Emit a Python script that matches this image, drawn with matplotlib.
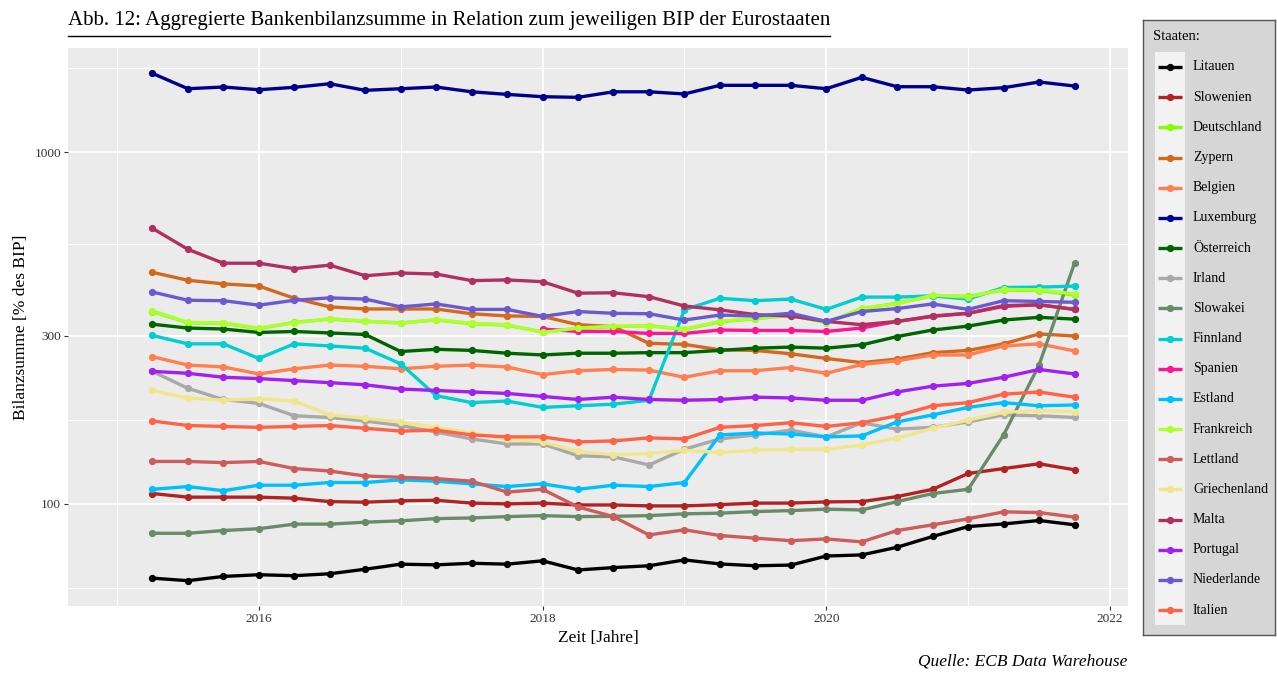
"""Aggregierte Bankenbilanzsumme der Eurostaaten in % des BIP (log-Skala)."""
import numpy as np
import matplotlib
matplotlib.use("Agg")
import matplotlib.pyplot as plt
from matplotlib.lines import Line2D
from matplotlib.patches import Rectangle

plt.rcParams["font.family"] = ["Liberation Serif", "DejaVu Serif"]

# Quartale 2015 Q1 .. 2021 Q3
QUARTERS = [2015.25 + 0.25 * i for i in range(27)]

COUNTRIES = [
    "Litauen", "Slowenien", "Deutschland", "Zypern", "Belgien", "Luxemburg",
    "Österreich", "Irland", "Slowakei", "Finnland", "Spanien", "Estland",
    "Frankreich", "Lettland", "Griechenland", "Malta", "Portugal",
    "Niederlande", "Italien",
]

COLORS = [
    "#000000", "#b22222", "#7fff00", "#d2691e", "#ff7f50", "#00008b",
    "#006400", "#a9a9a9", "#698b69", "#00ced1", "#ff1493", "#00bfff",
    "#adff2f", "#cd5c5c", "#f0e68c", "#b03060", "#a020f0", "#6a5acd",
    "#ff6347",
]

# Bilanzsumme in % des BIP
litauen = [61.5, 60.5, 62.2, 62.9, 62.5, 63.3, 65.2, 67.4, 67.1, 67.8, 67.4,
           68.9, 64.9, 65.9, 66.7, 69.3, 67.5, 66.7, 67.0, 71.1, 71.6, 75.3,
           80.8, 86.2, 87.7, 89.7, 87.2]
slowenien = [107, 104.5, 104.5, 104.5, 103.8, 101.5, 101.1, 102, 102.4, 100.5,
             100, 100.5, 99.3, 99.3, 98.7, 98.7, 99.5, 100.5, 100.5, 101.3,
             101.5, 104.9, 110, 122, 126, 130, 125]
deutschland = [352, 327, 326, 315, 328, 335, 330, 327, 333, 325, 322, 308, 315,
               319, 321, 313, 329, 336, 343, 328, 358, 372, 390, 389, 405, 404,
               392]
zypern = [455, 432, 422, 416, 384, 363, 358, 358, 358, 347, 342, 341, 323, 319,
          286, 284, 274, 273, 267, 259, 252, 258, 269, 273, 285, 304, 300]
belgien = [262, 248, 245, 234, 242, 248, 246, 242, 246, 248, 245, 233, 239, 241,
           240, 229, 239, 239, 244, 235, 249, 255, 265, 265, 281, 285, 272]
luxemburg = [1673, 1513, 1530, 1503, 1527, 1563, 1497, 1513, 1530, 1483, 1458,
             1436, 1430, 1483, 1483, 1462, 1547, 1547, 1547, 1513, 1630, 1533,
             1533, 1500, 1523, 1581, 1540]
oesterreich = [324, 316, 314, 307, 309, 306, 303, 271, 275, 273, 268, 265, 268,
               268, 269, 269, 273, 277, 279, 277, 283, 299, 312, 320, 333, 339,
               335]
irland = [238, 213, 198, 193, 178, 176, 172, 167, 160, 153, 148, 148, 137, 136,
          129, 143, 153, 157, 162, 155, 170, 163, 165, 171, 179, 178, 176]
slowakei = [82.5, 82.5, 84, 85, 87.6, 87.6, 88.7, 89.5, 90.8, 91.2, 92, 92.6,
            92, 92.2, 92.6, 93.7, 94.1, 95.1, 95.7, 96.6, 96.1, 101.5, 107, 110,
            157, 248, 483]
finnland = [301, 285, 285, 259, 285, 281, 277, 250, 203, 194, 196, 188, 190,
            192, 197, 356, 384, 378, 382, 357, 387, 387, 390, 382, 412, 413,
            416]
spanien = [np.nan] * 11 + [314, 309, 309, 305, 305, 312, 311, 311, 309, 316,
                           330, 342, 348, 364, 368, 357]
estland = [110, 112, 109, 113, 113, 115, 115, 117, 116, 114, 112, 114, 110, 113,
           112, 115, 157, 159, 158, 155, 156, 171, 179, 188, 194, 190, 191]
frankreich = [354, 328, 327, 316, 327, 336, 331, 326, 334, 326, 323, 307, 316,
              320, 320, 314, 330, 337, 344, 327, 360, 370, 392, 387, 407, 406,
              395]
lettland = [132, 132, 131, 132, 126, 124, 120, 119, 118, 116, 108, 110, 98, 92,
            81.6, 84.4, 81.3, 79.9, 78.6, 79.5, 78, 84, 87.2, 90.7, 94.9, 94.5,
            91.7]
griechenland = [210, 200, 197, 199, 196, 179, 175, 171, 165, 159, 153, 150, 141,
                138, 139, 142, 140, 142, 143, 143, 147, 154, 164, 173, 182, 184,
                183]
malta = [607, 529, 483, 483, 466, 477, 445, 453, 450, 431, 433, 428, 397, 398,
         388, 365, 356, 345, 342, 330, 323, 330, 341, 348, 366, 368, 357]
portugal = [238, 235, 229, 227, 224, 221, 218, 212, 210, 208, 206, 202, 198,
            201, 198, 197, 198, 201, 200, 197, 197, 208, 216, 220, 229, 241,
            234]
niederlande = [400, 379, 378, 367, 379, 385, 382, 363, 370, 357, 357, 341, 352,
               348, 347, 333, 344, 342, 348, 330, 352, 359, 370, 357, 378, 376,
               374]
italien = [172, 167, 166, 165, 166, 167, 164, 161, 162, 157, 155, 155, 150, 151,
           154, 153, 165, 167, 170, 166, 170, 178, 190, 194, 205, 208, 201]

SERIES = [litauen, slowenien, deutschland, zypern, belgien, luxemburg,
          oesterreich, irland, slowakei, finnland, spanien, estland, frankreich,
          lettland, griechenland, malta, portugal, niederlande, italien]

W, H = 1277, 673
fig = plt.figure(figsize=(W / 100, H / 100), dpi=100)
fig.patch.set_facecolor("white")

# panel in pixel coordinates: x 68..1128, y 48..606
ax = fig.add_axes([68 / W, (H - 606) / H, 1060 / W, 558 / H])
ax.set_facecolor("#ebebeb")
for s in ax.spines.values():
    s.set_visible(False)

for i, (name, vals, col) in enumerate(zip(COUNTRIES, SERIES, COLORS)):
    ax.plot(QUARTERS, vals, color=col, lw=2.4, marker="o", ms=4.2,
            solid_capstyle="round", zorder=3 + i * 0.01, label=name)

ax.set_yscale("log")
ax.set_ylim(51.26, 1975)
ax.set_xlim(2014.655, 2022.127)

ax.set_yticks([100, 300, 1000])
ax.set_yticklabels(["100", "300", "1000"])
ax.set_yticks([57.7, 173.2, 547.7, 1732], minor=True)
ax.set_xticks([2016, 2018, 2020, 2022])
ax.set_xticks([2015, 2017, 2019, 2021], minor=True)
ax.yaxis.set_minor_formatter(plt.NullFormatter())
ax.xaxis.set_minor_formatter(plt.NullFormatter())

ax.grid(which="major", color="white", lw=1.4, zorder=0)
ax.grid(which="minor", color="white", lw=0.7, zorder=0)
ax.set_axisbelow(True)
ax.tick_params(which="major", length=3, width=0.8, color="#333333",
               labelsize=9.5, labelcolor="#333333", pad=2)
ax.tick_params(which="minor", length=0)

ax.set_ylabel("Bilanzsumme [% des BIP]", fontsize=12.5, labelpad=4)
ax.set_xlabel("Zeit [Jahre]", fontsize=12.5, labelpad=4)

# Titel mit Unterstreichung
title = fig.text(68 / W, 1 - 20 / H, "Abb. 12: Aggregierte Bankenbilanzsumme in "
                 "Relation zum jeweiligen BIP der Eurostaaten",
                 fontsize=15, ha="left", va="center")
renderer = fig.canvas.get_renderer()
bb = title.get_window_extent(renderer).transformed(fig.transFigure.inverted())
fig.add_artist(Line2D([bb.x0, bb.x1], [1 - 36 / H, 1 - 36 / H],
                      color="black", lw=1.0, transform=fig.transFigure))

fig.text(1127 / W, 1 - 662 / H, "Quelle: ECB Data Warehouse", fontsize=12.5,
         style="italic", ha="right", va="center")

# Legende als eigenes Feld rechts
lax = fig.add_axes([1143 / W, (H - 635) / H, 132 / W, 615 / H])
lax.set_xlim(1143, 1275)
lax.set_ylim(635, 20)
lax.set_facecolor("#d6d6d6")
lax.set_xticks([])
lax.set_yticks([])
for s in lax.spines.values():
    s.set_color("#555555")
    s.set_linewidth(1.0)
lax.text(1153, 37, "Staaten:", fontsize=10.5, ha="left", va="center")
lax.add_patch(Rectangle((1155, 52), 30, 573, facecolor="#f2f2f2",
                        edgecolor="none"))
for k, (name, col) in enumerate(zip(COUNTRIES, COLORS)):
    y = 67 + 30.17 * k
    lax.plot([1158, 1182], [y, y], color=col, lw=2.4, solid_capstyle="butt")
    lax.plot([1170], [y], "o", color=col, ms=4.2)
    lax.text(1193, y, name, fontsize=10, ha="left", va="center")

fig.savefig("out.png", dpi=100)
